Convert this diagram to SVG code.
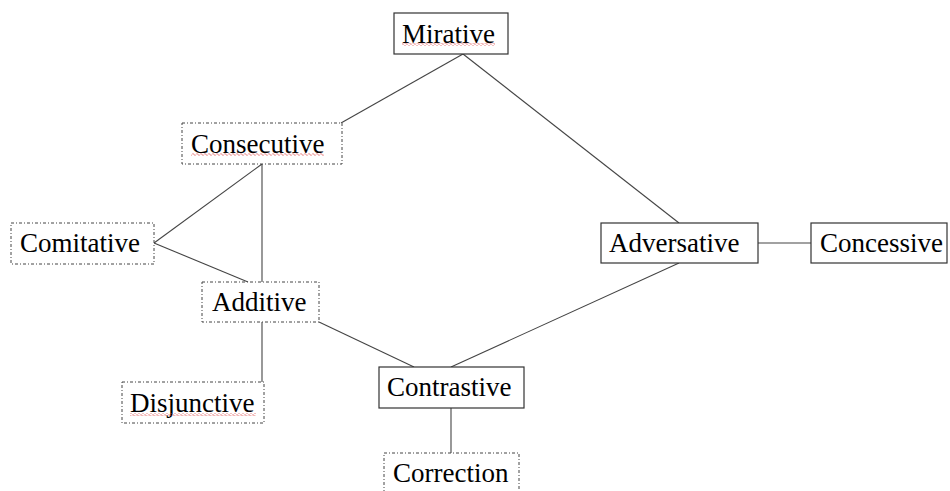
<svg xmlns="http://www.w3.org/2000/svg" width="950" height="491" viewBox="0 0 950 491">
<defs>
<style>
.box{fill:#fff;stroke:#333;stroke-width:1.2}
.dash{fill:#fff;stroke:#444;stroke-width:1;stroke-dasharray:3 2 1 2}
.lbl{font-family:"Liberation Serif","Times New Roman",serif;font-size:27px;fill:#000}
.edge{stroke:#444;stroke-width:1.1;fill:none}
</style>
<pattern id="sq" x="0" y="0" width="4" height="3" patternUnits="userSpaceOnUse">
<path d="M0,1.5 L1,0.5 L3,2.5 L4,1.5" fill="none" stroke="#e05050" stroke-width="0.8"/>
</pattern>
</defs>
<rect width="950" height="491" fill="#fff"/>
<g id="connectors">
<line class="edge" x1="463" y1="54" x2="341" y2="123"/>
<line class="edge" x1="463" y1="54" x2="679" y2="223"/>
<line class="edge" x1="262" y1="164" x2="262" y2="282"/>
<line class="edge" x1="154" y1="243" x2="262" y2="164"/>
<line class="edge" x1="154" y1="243" x2="248" y2="282"/>
<line class="edge" x1="319" y1="322" x2="414" y2="367"/>
<line class="edge" x1="262" y1="322" x2="262" y2="382"/>
<line class="edge" x1="679" y1="263" x2="451" y2="367"/>
<line class="edge" x1="758" y1="243" x2="811" y2="243"/>
<line class="edge" x1="451" y1="408" x2="451" y2="453"/>
</g>
<g id="mirative"><rect class="box" x="394" y="13" width="114" height="41"/><text class="lbl" x="402" y="43">Mirative</text><rect x="402" y="43" width="93" height="3" fill="url(#sq)"/></g>
<g id="consecutive"><rect class="dash" x="182" y="123" width="160" height="41"/><text class="lbl" x="191" y="153">Consecutive</text><rect x="191" y="153" width="133" height="3" fill="url(#sq)"/></g>
<g id="comitative"><rect class="dash" x="11" y="223" width="143" height="41"/><text class="lbl" x="20" y="252">Comitative</text></g>
<g id="additive"><rect class="dash" x="202" y="282" width="117" height="40"/><text class="lbl" x="212" y="311">Additive</text></g>
<g id="disjunctive"><rect class="dash" x="122" y="382" width="142" height="41"/><text class="lbl" x="130" y="412">Disjunctive</text><rect x="130" y="413" width="126" height="3" fill="url(#sq)"/></g>
<g id="contrastive"><rect class="box" x="379" y="367" width="145" height="41"/><text class="lbl" x="387" y="396">Contrastive</text></g>
<g id="correction"><rect class="dash" x="384" y="453" width="135" height="41"/><text class="lbl" x="393" y="482">Correction</text></g>
<g id="adversative"><rect class="box" x="601" y="223" width="157" height="40"/><text class="lbl" x="609" y="252">Adversative</text></g>
<g id="concessive"><rect class="box" x="811" y="223" width="136" height="40"/><text class="lbl" x="820" y="252">Concessive</text></g>
</svg>
